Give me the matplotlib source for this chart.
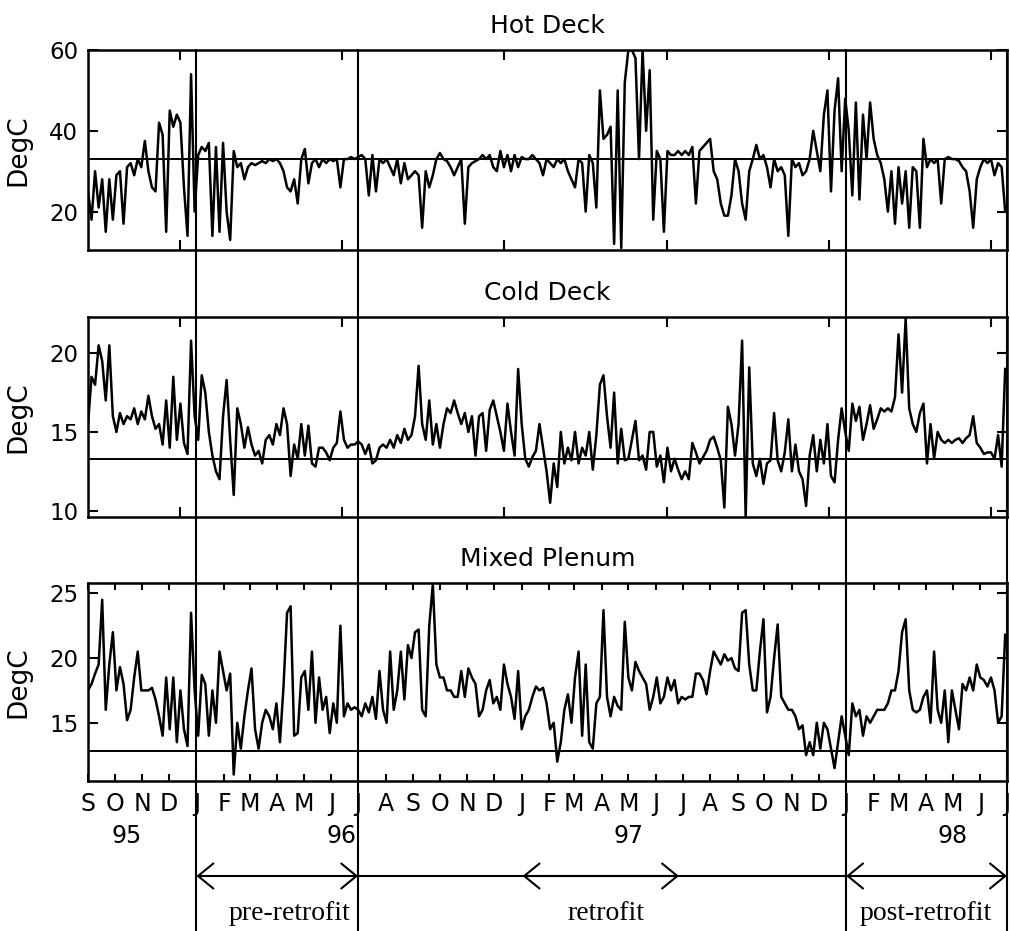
import numpy as np
import matplotlib
matplotlib.use("Agg")
import matplotlib.pyplot as plt
from matplotlib.transforms import blended_transform_factory

# daily-ish readings, one value every 4 days starting 1 Sep 1995
START = np.datetime64("1995-09-01")
END = np.datetime64("1998-07-01")
STEP_DAYS = 4

hot_deck = [
    25, 18, 30, 21, 28, 15, 28, 18, 29, 30,
    17, 31, 32, 29, 33, 31, 37.5, 30, 26, 25,
    42, 39, 15, 45, 41, 44, 42, 26, 14, 54,
    20, 34, 36, 35, 37, 14, 36, 15, 37, 20,
    13, 35, 31, 32, 28, 31, 32, 31.5, 32, 32.5,
    32, 33, 32.5, 33, 32, 30, 26, 25, 28, 22,
    33, 35.5, 27, 32, 33, 31, 33, 32, 33, 32.5,
    33, 26, 33, 33, 33.5, 33, 33.5, 34, 33, 24,
    34, 25, 33, 32, 33, 31, 29, 33, 27, 32,
    28, 29, 30, 29, 16, 30, 26, 29, 33, 34.5,
    33, 32.5, 31, 29, 31, 33, 17, 31, 32, 32.5,
    33, 34, 33, 34, 31, 30, 35, 31, 34, 30,
    34, 31, 33.5, 33, 33, 34, 33, 32, 29, 33,
    32, 31, 33, 32, 33, 30, 28, 26, 33, 32,
    20, 34, 32, 21, 50, 38, 39, 41, 12, 50,
    11, 52, 60, 60, 58, 33, 60, 40, 55, 18,
    35, 33, 15, 35, 34, 34, 35, 34, 35, 34,
    36, 22, 35, 36, 37, 38, 30, 28, 22, 19,
    19, 24, 33, 30, 22, 18, 30, 33, 36.5, 33,
    34, 31, 26, 33, 30, 31, 29, 14, 33, 31,
    32, 29, 30, 33, 40, 35, 30, 44, 50, 25,
    45, 53, 30, 48, 40, 24, 47, 23, 44, 33,
    47, 38, 34, 32, 28, 20, 30, 17, 31, 22,
    30, 16, 31, 30, 16, 38, 31, 33, 32, 33,
    22, 33, 33.5, 33, 33, 32.5, 31, 30, 25, 16,
    28, 31, 33, 32, 33, 29, 32, 31, 20,
]

cold_deck = [
    15.5, 18.5, 18, 20.5, 19.5, 17, 20.5, 16, 15, 16.2,
    15.5, 16, 15.8, 16.5, 15.5, 16.3, 15.8, 17.3, 16, 15.2,
    15.5, 14.2, 17, 14, 18.5, 14.5, 16.8, 14.3, 13.6, 20.8,
    16, 14.5, 18.6, 17.5, 15, 13.5, 12.5, 12, 16, 18.3,
    14.5, 11, 16.5, 15.5, 14, 15.3, 14.2, 13.5, 13.8, 13,
    14.5, 14.8, 14.2, 15.5, 14.8, 16.5, 15.5, 12.2, 14.2, 13.3,
    15.5, 13.5, 15.4, 13, 12.8, 14, 14, 13.7, 13.2, 14,
    14.3, 16.3, 14.5, 14, 14.2, 14.2, 14.4, 14.2, 13.6, 14.2,
    13, 13.2, 14, 14.2, 14, 14.5, 14, 14.8, 14.3, 15.2,
    14.5, 14.8, 16, 19.2, 15.5, 14.5, 17, 14.2, 15.5, 14,
    15.5, 16.5, 16.2, 17, 16.2, 15.5, 16.2, 15, 16, 13.5,
    16, 16.2, 13.8, 16.4, 17, 16, 15, 13.8, 16.8, 15,
    13.5, 19, 15.5, 13.3, 12.8, 13.4, 13.8, 15.5, 14, 12.5,
    10.5, 13, 11.5, 15, 13, 14, 13.2, 15, 13, 14,
    13.5, 15, 12.6, 14.8, 18, 18.6, 16, 14, 17.5, 13,
    15.2, 13.2, 13.3, 14.5, 15.7, 13.2, 13.5, 12.6, 15, 15,
    12.8, 13.5, 11.8, 14, 12.5, 13.3, 12.6, 12, 12.5, 12,
    14.3, 13.7, 13, 13.4, 13.8, 14.5, 14.7, 14, 13.2, 10.2,
    16.6, 15.5, 13.5, 15.5, 20.8, 9.6, 19.1, 13, 12.2, 13.3,
    11.7, 13, 13.2, 16.2, 13.2, 12.5, 13.7, 15.8, 12.5, 14.2,
    12.5, 12, 10.3, 13.5, 14.8, 12.5, 14.5, 13, 15.5, 12.2,
    11.8, 14.5, 16.5, 15, 13.8, 16.8, 15.7, 16.6, 14.5, 15.5,
    16.7, 15.2, 15.8, 16.5, 16.3, 16.5, 16.3, 17.2, 21.2, 17.5,
    22.2, 16.5, 15.5, 15, 16.2, 16.8, 13, 15.5, 13.3, 15,
    14.5, 14.3, 14.5, 14.3, 14.5, 14.6, 14.3, 14.6, 14.8, 16,
    14.3, 14, 13.6, 13.7, 13.7, 13.3, 14.8, 12.8, 19,
]

mixed_plenum = [
    17.5, 18, 18.8, 19.5, 24.5, 16, 19.5, 22, 17.5, 19.3,
    18, 15.2, 16, 18.5, 20.5, 17.5, 17.5, 17.5, 17.7, 16.8,
    15.5, 14, 18.5, 14.5, 18.5, 13.5, 17.5, 14.5, 13.2, 23.5,
    17.5, 14, 18.7, 18, 14, 17.5, 15, 20.5, 19, 17.5,
    18.8, 11, 15, 13, 15.5, 17.5, 19.2, 14.5, 13, 15,
    16, 15.5, 14.5, 16.5, 13.5, 17.8, 23.5, 24, 14, 14.2,
    18.5, 19, 16, 20.5, 15, 18.5, 16, 17, 14.2, 16.5,
    15, 22.5, 15.5, 16.5, 16, 16.2, 16, 15.5, 16.5, 15.8,
    17, 15.3, 19, 16, 15, 20.5, 16, 17.5, 20.5, 16.8,
    21, 20, 22, 22.2, 16, 15.5, 22.5, 25.7, 19.5, 18.5,
    18.5, 17.5, 17.5, 17, 17, 19, 17, 19.2, 18.5, 18,
    15.5, 16, 17.5, 18.3, 16.5, 17, 16, 19.5, 18, 17,
    15.3, 19, 14.5, 15.5, 16, 17, 17.8, 17.5, 17.7, 16.5,
    14.5, 15, 12, 13.5, 16, 17.2, 15, 18.5, 20.5, 14,
    19.5, 13.5, 13, 16.5, 17, 23.7, 17, 15.5, 17, 16.3,
    16, 22.8, 18.5, 17.5, 19.7, 19, 18.5, 18, 16, 17,
    18.5, 16.5, 17, 18.5, 17.5, 18.3, 16.5, 17, 16.8, 17,
    17, 18.8, 18.8, 18.3, 17.2, 19, 20.5, 20, 19.5, 20.3,
    19.8, 20, 19.2, 19, 23.5, 23.7, 19.5, 17.5, 17.5, 20.5,
    23, 15.8, 17, 20, 22.6, 17, 16.5, 16, 16, 15.5,
    14.5, 14.8, 12.5, 13.5, 12.5, 15, 13, 15, 14.5, 13,
    11.5, 13.5, 15.5, 14, 12.5, 16.5, 15.5, 16, 14, 15.5,
    15, 15.5, 16, 16, 16, 16.5, 17.5, 17.5, 19, 22,
    23, 17.5, 16, 15.8, 16, 17, 17.5, 15, 20.5, 16,
    15, 17.5, 13.5, 17.5, 16, 14.5, 18, 17.5, 18.5, 17.5,
    19.5, 18.5, 18.3, 17.8, 18.5, 17.5, 15, 15.5, 21.8,
]

# horizontal reference levels (DegC)
hot_ref = 33.1
cold_ref = 13.27
mixed_ref = 12.8

month_letters = list("SOND" + "JFMAMJJASOND" + "JFMAMJJASOND" + "JFMAMJJ")
year_labels = ["95", "96", "97", "98"]
year_label_dates = ["1995-10-15", "1996-06-12", "1997-05-01", "1998-05-01"]
half_year_ticks = ["1995-12-13", "1996-06-13", "1996-12-12",
                   "1997-06-13", "1997-12-13", "1998-06-13"]
period_bounds = ["1996-01-01", "1996-07-01", "1998-01-01", "1998-07-01"]
period_names = ["pre-retrofit", "retrofit", "post-retrofit"]
period_label_dates = ["1996-04-15", "1997-04-06", "1998-04-01"]


def day(s):
    return int((np.datetime64(s) - START) / np.timedelta64(1, "D"))


days = np.arange(len(hot_deck)) * STEP_DAYS
month_starts = np.arange("1995-09", "1998-08", dtype="datetime64[M]")
month_days = (month_starts.astype("datetime64[D]") - START).astype(int)

plt.rcParams["font.family"] = "DejaVu Sans"
fig = plt.figure(figsize=(10.1, 9.31), dpi=100)

left, width = 0.0871, 0.9099
ax1 = fig.add_axes([left, 0.7315, width, 0.2148])
ax2 = fig.add_axes([left, 0.4447, width, 0.2148])
ax3 = fig.add_axes([left, 0.1611, width, 0.2127])

panels = [
    (ax1, "Hot Deck", hot_deck, hot_ref, (10.5, 60), [20, 40, 60]),
    (ax2, "Cold Deck", cold_deck, cold_ref, (9.6, 22.3), [10, 15, 20]),
    (ax3, "Mixed Plenum", mixed_plenum, mixed_ref, (10.5, 25.8), [15, 20, 25]),
]

for ax, title, vals, ref, ylim, yt in panels:
    ax.plot(days, vals, color="black", lw=1.8)
    ax.axhline(ref, color="black", lw=1.4)
    ax.set_xlim(0, day(str(END)))
    ax.set_ylim(*ylim)
    ax.set_yticks(yt)
    ax.set_title(title, fontsize=18, pad=12)
    ax.set_ylabel("DegC", fontsize=19)
    ax.yaxis.set_label_coords(-0.062, 0.5)
    for sp in ax.spines.values():
        sp.set_linewidth(1.8)
    ax.tick_params(axis="y", direction="in", length=7, width=1.5,
                   labelsize=16.5, pad=7, right=True)
    ax.tick_params(axis="x", direction="in", length=7, width=1.5, top=True)

for ax in (ax1, ax2):
    ax.set_xticks([day(d) for d in half_year_ticks])
    ax.set_xticklabels([])

ax3.set_xticks(month_days)
ax3.set_xticklabels(month_letters, fontsize=17)
ax3.tick_params(axis="x", length=5, pad=8)

# long vertical period dividers running through all panels
vtrans = blended_transform_factory(ax3.transData, fig.transFigure)
for d in period_bounds:
    x = day(d)
    fig.add_artist(plt.Line2D([x, x], [0, 0.9463], transform=vtrans,
                              color="black", lw=1.5))

for lab, d in zip(year_labels, year_label_dates):
    fig.text(day(d), 1 - 836 / 931, lab, transform=vtrans,
             ha="center", va="center", fontsize=17)

# period arrows
arrow_y = 1 - 876 / 931
akw = dict(arrowstyle="<->, head_length=0.55, head_width=0.45",
           lw=1.5, color="black", mutation_scale=20, shrinkA=0, shrinkB=0)
xyc = (ax3.transData, fig.transFigure)
ax3.annotate("", xy=(day(period_bounds[0]), arrow_y),
             xytext=(day(period_bounds[1]), arrow_y),
             xycoords=xyc, textcoords=xyc, arrowprops=akw,
             annotation_clip=False)
ax3.annotate("", xy=(day(period_bounds[2]), arrow_y),
             xytext=(day(period_bounds[3]), arrow_y),
             xycoords=xyc, textcoords=xyc, arrowprops=akw,
             annotation_clip=False)
fig.add_artist(plt.Line2D([day(period_bounds[1]), day(period_bounds[2])],
                          [arrow_y, arrow_y], transform=vtrans,
                          color="black", lw=1.5))
okw = dict(akw, arrowstyle="->, head_length=0.55, head_width=0.45")
mid = day("1997-04-01")
for d in ["1997-01-02", "1997-06-27"]:
    ax3.annotate("", xy=(day(d), arrow_y), xytext=(mid, arrow_y),
                 xycoords=xyc, textcoords=xyc, arrowprops=okw,
                 annotation_clip=False)

for name, d in zip(period_names, period_label_dates):
    fig.text(day(d), 1 - 914 / 931, name, transform=vtrans,
             ha="center", va="center", fontsize=20, family="Liberation Serif")

fig.savefig("out.png", dpi=100)
